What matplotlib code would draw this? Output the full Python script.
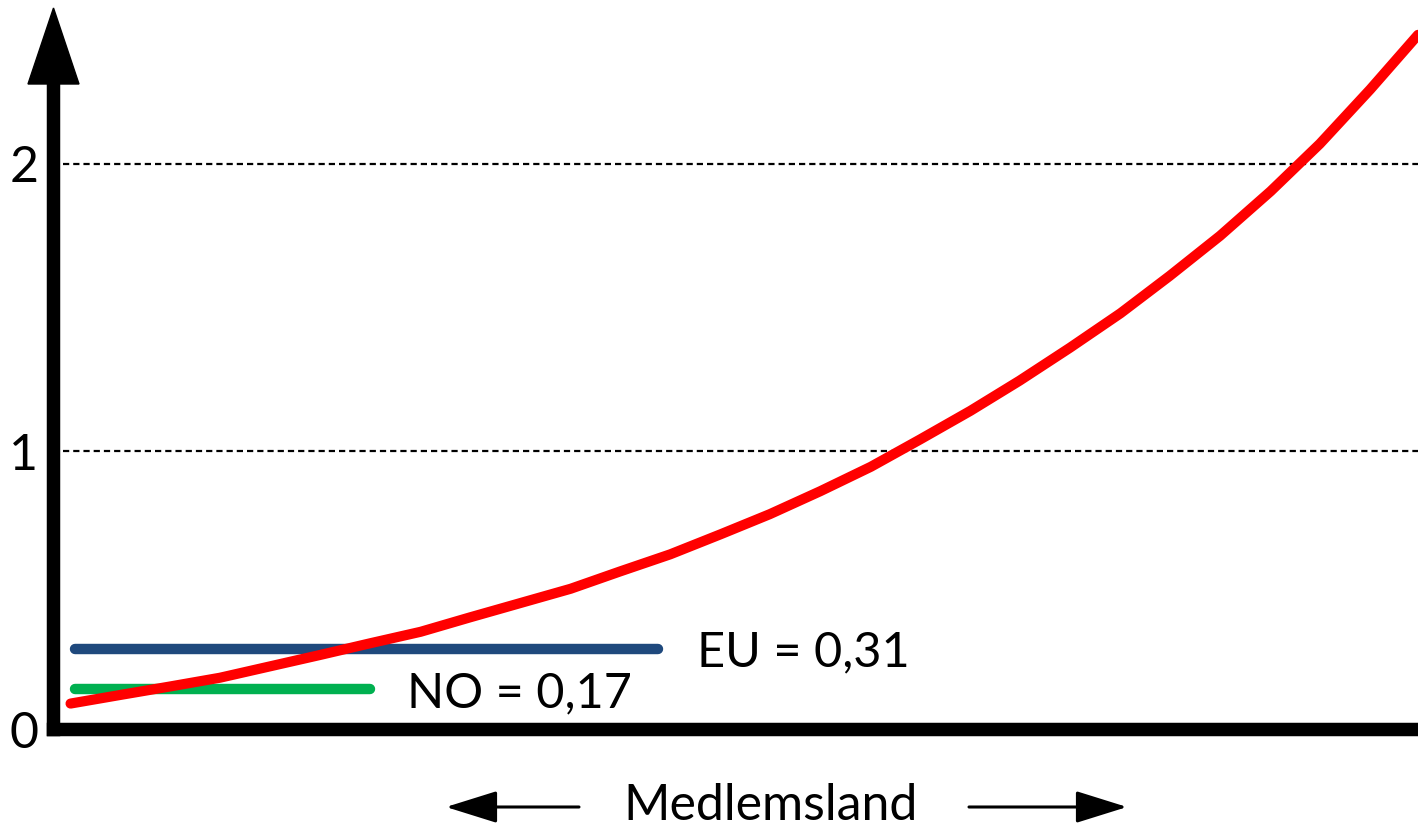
import matplotlib
matplotlib.use("Agg")
import matplotlib.pyplot as plt
from matplotlib.patches import Polygon

plt.rcParams["font.family"] = ["Lato", "DejaVu Sans"]

# member states sorted by value (x = rank, 0-100) and their ratio (red curve)
rank = [1.25, 4.9, 8.6, 12.2, 15.9, 19.6, 23.2, 26.9, 30.5, 34.2, 37.9, 41.5,
        45.2, 48.9, 52.5, 56.2, 59.9, 63.5, 67.2, 70.8, 74.5, 78.2, 81.8,
        85.5, 89.2, 92.8, 96.5, 100]
ratio = [0.12, 0.15, 0.18, 0.21, 0.25, 0.29, 0.33, 0.37, 0.42, 0.47, 0.52,
         0.58, 0.64, 0.71, 0.78, 0.86, 0.945, 1.04, 1.14, 1.245, 1.36, 1.48,
         1.61, 1.75, 1.905, 2.07, 2.26, 2.45]

# reference levels
eu_value = 0.31
no_value = 0.17
eu_span = [1.6, 44.3]
no_span = [1.6, 23.2]
eu_label = "EU = 0,31"
no_label = "NO = 0,17"

grid_levels = [1, 2]
tick_labels = ["0", "1", "2"]
x_label = "Medlemsland"

W, H = 1418, 827
fig = plt.figure(figsize=(W / 100, H / 100), dpi=100)
ax = fig.add_axes([53.5 / W, (H - 738) / H, (W - 53.5) / W, (738 - 83) / H])
ax.set_xlim(0, 100)
ax.set_ylim(0, (738 - 83) / 287)
base = 0.031  # where the drawn x axis sits

# dashed gridlines
for g in grid_levels:
    ax.axhline(g, xmin=10 / 1365, xmax=1, color="black", lw=1.6,
               ls=(0, (2.8, 1.8)), zorder=1)

# EU and Norway levels
ax.plot(eu_span, [eu_value, eu_value], color="#1F497D", lw=7.5,
        solid_capstyle="round", zorder=2)
ax.plot(no_span, [no_value, no_value], color="#00B050", lw=7.5,
        solid_capstyle="round", zorder=2)
ax.annotate(eu_label, xy=(eu_span[1], eu_value), xytext=(39, -17),
            textcoords="offset pixels", ha="left", va="baseline", fontsize=35)
ax.annotate(no_label, xy=(no_span[1], no_value), xytext=(37, -18),
            textcoords="offset pixels", ha="left", va="baseline", fontsize=35)

# member state curve
ax.plot(rank, ratio, color="#FF0000", lw=7.3, solid_capstyle="round",
        solid_joinstyle="round", zorder=3, clip_on=False)

# axes
for s in ["top", "right"]:
    ax.spines[s].set_visible(False)
ax.spines["left"].set_bounds(base, ax.get_ylim()[1])
ax.spines["bottom"].set_position(("data", base))
for s in ["left", "bottom"]:
    ax.spines[s].set_linewidth(9.7)
    ax.spines[s].set_capstyle("projecting")
    ax.spines[s].set_zorder(4)

ax.set_xticks([])
ax.set_yticks([base] + grid_levels)
ax.set_yticklabels(tick_labels)
ax.tick_params(axis="y", length=0, pad=11, labelsize=36)

# arrow head on y axis
head = Polygon([(53.5 / W, 1 - 8 / H), (28 / W, 1 - 84 / H), (79 / W, 1 - 84 / H)],
               closed=True, color="black", transform=fig.transFigure)
fig.add_artist(head)

# x axis caption with arrows
fig.text(771 / W, 1 - 820 / H, x_label, ha="center", va="baseline", fontsize=36)
arrow = dict(arrowstyle="-|>,head_length=3.2,head_width=1.0", lw=2.2,
             color="black", mutation_scale=10, shrinkA=0, shrinkB=0)
ax.annotate("", xy=(446, H - 807), xytext=(579, H - 807),
            xycoords="figure pixels", textcoords="figure pixels", arrowprops=arrow)
ax.annotate("", xy=(1127, H - 807), xytext=(969, H - 807),
            xycoords="figure pixels", textcoords="figure pixels", arrowprops=arrow)

fig.savefig("out.png", dpi=100)
